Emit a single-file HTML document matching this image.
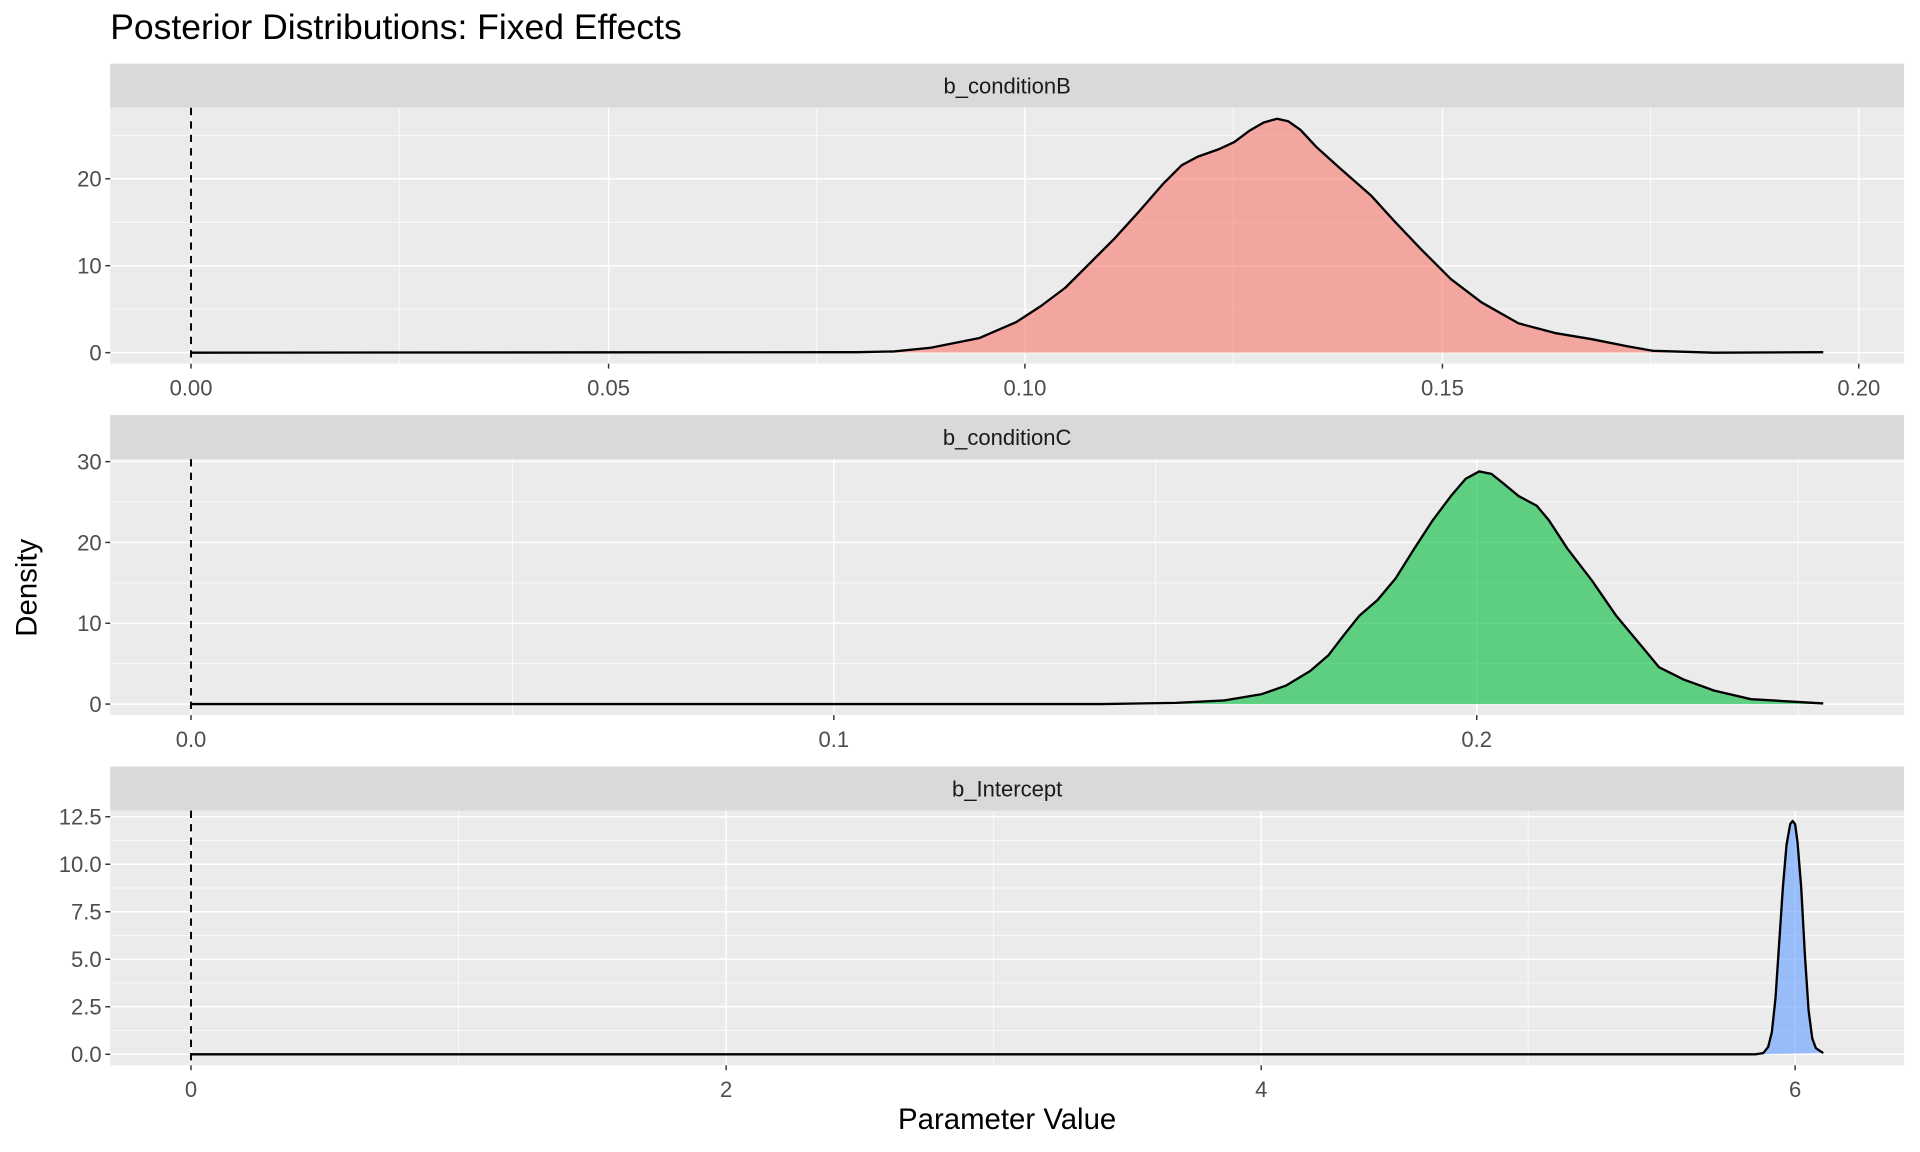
<!DOCTYPE html>
<html><head><meta charset="utf-8"><style>html,body{margin:0;padding:0;background:#fff}svg{display:block}</style></head>
<body>
<svg width="1920" height="1152" viewBox="0 0 1568 940.8" xmlns="http://www.w3.org/2000/svg" font-family="Liberation Sans, sans-serif">
<rect width="1568" height="941" fill="#fff"/>
<text x="90" y="32" font-size="29" fill="#000">Posterior Distributions: Fixed Effects</text>

<!-- Panel 1 -->
<rect x="90" y="52" width="1465" height="36" fill="#D9D9D9"/>
<text x="822.5" y="76.5" font-size="18" fill="#1A1A1A" text-anchor="middle">b_conditionB</text>
<rect x="90" y="88" width="1465" height="209" fill="#EBEBEB"/>
<g stroke="#fff" stroke-width="0.6">
<line x1="90" x2="1555" y1="252.5" y2="252.5"/><line x1="90" x2="1555" y1="181.5" y2="181.5"/><line x1="90" x2="1555" y1="110.5" y2="110.5"/>
<line x1="326" x2="326" y1="88" y2="297"/><line x1="667" x2="667" y1="88" y2="297"/><line x1="1007" x2="1007" y1="88" y2="297"/><line x1="1348" x2="1348" y1="88" y2="297"/>
</g>
<g stroke="#fff" stroke-width="1.2">
<line x1="90" x2="1555" y1="288" y2="288"/><line x1="90" x2="1555" y1="217" y2="217"/><line x1="90" x2="1555" y1="146" y2="146"/>
<line x1="156" x2="156" y1="88" y2="297"/><line x1="497" x2="497" y1="88" y2="297"/><line x1="837" x2="837" y1="88" y2="297"/><line x1="1178" x2="1178" y1="88" y2="297"/><line x1="1518" x2="1518" y1="88" y2="297"/>
</g>
<path d="M700,288 L700,287.6 L730,287 L760,284 L800,276 L830,263 L850,250 L870,235 L890,215 L910,195 L930,173 L950,150 L965,135 L978,128 L995,122 L1008,116 L1020,107 L1032,100 L1043,97 L1052,99 L1062,106 L1075,120 L1095,138 L1120,160 L1140,182 L1160,203 L1185,228 L1210,247 L1240,264 L1270,272 L1300,277 L1330,283 L1350,286.5 L1400,288 L1489,288 Z" fill="#F8766D" fill-opacity="0.6"/>
<polyline points="156,288 700,287.6 730,287 760,284 800,276 830,263 850,250 870,235 890,215 910,195 930,173 950,150 965,135 978,128 995,122 1008,116 1020,107 1032,100 1043,97 1052,99 1062,106 1075,120 1095,138 1120,160 1140,182 1160,203 1185,228 1210,247 1240,264 1270,272 1300,277 1330,283 1350,286.5 1400,288 1489,287.6" fill="none" stroke="#000" stroke-width="1.9" stroke-linejoin="round"/>
<line x1="156" x2="156" y1="88" y2="297" stroke="#000" stroke-width="1.6" stroke-dasharray="6,5"/>
<g stroke="#333" stroke-width="1.2">
<line x1="86" x2="90" y1="288" y2="288"/><line x1="86" x2="90" y1="217" y2="217"/><line x1="86" x2="90" y1="146" y2="146"/>
<line x1="156" x2="156" y1="297" y2="301"/><line x1="497" x2="497" y1="297" y2="301"/><line x1="837" x2="837" y1="297" y2="301"/><line x1="1178" x2="1178" y1="297" y2="301"/><line x1="1518" x2="1518" y1="297" y2="301"/>
</g>
<g font-size="18" fill="#4D4D4D" text-anchor="end"><text x="83" y="294.5">0</text><text x="83" y="223.5">10</text><text x="83" y="152.5">20</text></g>
<g font-size="18" fill="#4D4D4D" text-anchor="middle"><text x="156" y="323">0.00</text><text x="497" y="323">0.05</text><text x="837" y="323">0.10</text><text x="1178" y="323">0.15</text><text x="1518" y="323">0.20</text></g>

<!-- Panel 2 -->
<rect x="90" y="339" width="1465" height="36" fill="#D9D9D9"/>
<text x="822.5" y="363.5" font-size="18" fill="#1A1A1A" text-anchor="middle">b_conditionC</text>
<rect x="90" y="375" width="1465" height="209" fill="#EBEBEB"/>
<g stroke="#fff" stroke-width="0.6">
<line x1="90" x2="1555" y1="542" y2="542"/><line x1="90" x2="1555" y1="476" y2="476"/><line x1="90" x2="1555" y1="410" y2="410"/>
<line x1="418.5" x2="418.5" y1="375" y2="584"/><line x1="943.5" x2="943.5" y1="375" y2="584"/><line x1="1468.5" x2="1468.5" y1="375" y2="584"/>
</g>
<g stroke="#fff" stroke-width="1.2">
<line x1="90" x2="1555" y1="575" y2="575"/><line x1="90" x2="1555" y1="509" y2="509"/><line x1="90" x2="1555" y1="443" y2="443"/><line x1="90" x2="1555" y1="377" y2="377"/>
<line x1="156" x2="156" y1="375" y2="584"/><line x1="681" x2="681" y1="375" y2="584"/><line x1="1206" x2="1206" y1="375" y2="584"/>
</g>
<path d="M900,575 L960,574 L1000,572 L1030,567 L1050,560 L1070,548 L1085,535 L1098,518 L1110,503 L1125,490 L1140,472 L1155,448 L1170,425 L1185,405 L1197,391 L1208,385 L1218,387 L1228,395 L1240,405 L1255,413 L1265,425 L1280,448 L1300,474 L1320,503 L1340,527 L1355,545 L1375,555 L1400,564 L1430,571 L1489,575 Z" fill="#00BA38" fill-opacity="0.6"/>
<polyline points="156,575 900,575 960,574 1000,572 1030,567 1050,560 1070,548 1085,535 1098,518 1110,503 1125,490 1140,472 1155,448 1170,425 1185,405 1197,391 1208,385 1218,387 1228,395 1240,405 1255,413 1265,425 1280,448 1300,474 1320,503 1340,527 1355,545 1375,555 1400,564 1430,571 1489,574.5" fill="none" stroke="#000" stroke-width="1.9" stroke-linejoin="round"/>
<line x1="156" x2="156" y1="375" y2="584" stroke="#000" stroke-width="1.6" stroke-dasharray="6,5"/>
<g stroke="#333" stroke-width="1.2">
<line x1="86" x2="90" y1="575" y2="575"/><line x1="86" x2="90" y1="509" y2="509"/><line x1="86" x2="90" y1="443" y2="443"/><line x1="86" x2="90" y1="377" y2="377"/>
<line x1="156" x2="156" y1="584" y2="588"/><line x1="681" x2="681" y1="584" y2="588"/><line x1="1206" x2="1206" y1="584" y2="588"/>
</g>
<g font-size="18" fill="#4D4D4D" text-anchor="end"><text x="83" y="581.5">0</text><text x="83" y="515.5">10</text><text x="83" y="449.5">20</text><text x="83" y="383.5">30</text></g>
<g font-size="18" fill="#4D4D4D" text-anchor="middle"><text x="156" y="610">0.0</text><text x="681" y="610">0.1</text><text x="1206" y="610">0.2</text></g>

<!-- Panel 3 -->
<rect x="90" y="626" width="1465" height="36" fill="#D9D9D9"/>
<text x="822.5" y="650.5" font-size="18" fill="#1A1A1A" text-anchor="middle">b_Intercept</text>
<rect x="90" y="662" width="1465" height="208" fill="#EBEBEB"/>
<g stroke="#fff" stroke-width="0.6">
<line x1="90" x2="1555" y1="841.6" y2="841.6"/><line x1="90" x2="1555" y1="802.8" y2="802.8"/><line x1="90" x2="1555" y1="764" y2="764"/><line x1="90" x2="1555" y1="725.2" y2="725.2"/><line x1="90" x2="1555" y1="686.4" y2="686.4"/>
<line x1="374.5" x2="374.5" y1="662" y2="870"/><line x1="811.5" x2="811.5" y1="662" y2="870"/><line x1="1248" x2="1248" y1="662" y2="870"/>
</g>
<g stroke="#fff" stroke-width="1.2">
<line x1="90" x2="1555" y1="861" y2="861"/><line x1="90" x2="1555" y1="822.2" y2="822.2"/><line x1="90" x2="1555" y1="783.4" y2="783.4"/><line x1="90" x2="1555" y1="744.6" y2="744.6"/><line x1="90" x2="1555" y1="705.8" y2="705.8"/><line x1="90" x2="1555" y1="667" y2="667"/>
<line x1="156" x2="156" y1="662" y2="870"/><line x1="593" x2="593" y1="662" y2="870"/><line x1="1030" x2="1030" y1="662" y2="870"/><line x1="1466" x2="1466" y1="662" y2="870"/>
</g>
<path d="M1434,861 L1440,860 L1444,855 L1447,843 L1450,815 L1453,770 L1456,725 L1459,690 L1462,673 L1464,670.5 L1466,673 L1468,688 L1471,725 L1474,780 L1477,825 L1480,848 L1483,856 L1489,860 Z" fill="#619CFF" fill-opacity="0.6"/>
<polyline points="156,861 1434,861 1440,860 1444,855 1447,843 1450,815 1453,770 1456,725 1459,690 1462,673 1464,670.5 1466,673 1468,688 1471,725 1474,780 1477,825 1480,848 1483,856 1489,860" fill="none" stroke="#000" stroke-width="1.9" stroke-linejoin="round"/>
<line x1="156" x2="156" y1="662" y2="870" stroke="#000" stroke-width="1.6" stroke-dasharray="6,5"/>
<g stroke="#333" stroke-width="1.2">
<line x1="86" x2="90" y1="861" y2="861"/><line x1="86" x2="90" y1="822.2" y2="822.2"/><line x1="86" x2="90" y1="783.4" y2="783.4"/><line x1="86" x2="90" y1="744.6" y2="744.6"/><line x1="86" x2="90" y1="705.8" y2="705.8"/><line x1="86" x2="90" y1="667" y2="667"/>
<line x1="156" x2="156" y1="870" y2="874"/><line x1="593" x2="593" y1="870" y2="874"/><line x1="1030" x2="1030" y1="870" y2="874"/><line x1="1466" x2="1466" y1="870" y2="874"/>
</g>
<g font-size="18" fill="#4D4D4D" text-anchor="end"><text x="83" y="867.5">0.0</text><text x="83" y="828.7">2.5</text><text x="83" y="789.9">5.0</text><text x="83" y="751.1">7.5</text><text x="83" y="712.3">10.0</text><text x="83" y="673.5">12.5</text></g>
<g font-size="18" fill="#4D4D4D" text-anchor="middle"><text x="156" y="896">0</text><text x="593" y="896">2</text><text x="1030" y="896">4</text><text x="1466" y="896">6</text></g>

<text x="822.5" y="922" font-size="24" fill="#000" text-anchor="middle">Parameter Value</text>
<text transform="translate(30,480) rotate(-90)" font-size="24" fill="#000" text-anchor="middle">Density</text>
</svg>
</body></html>
